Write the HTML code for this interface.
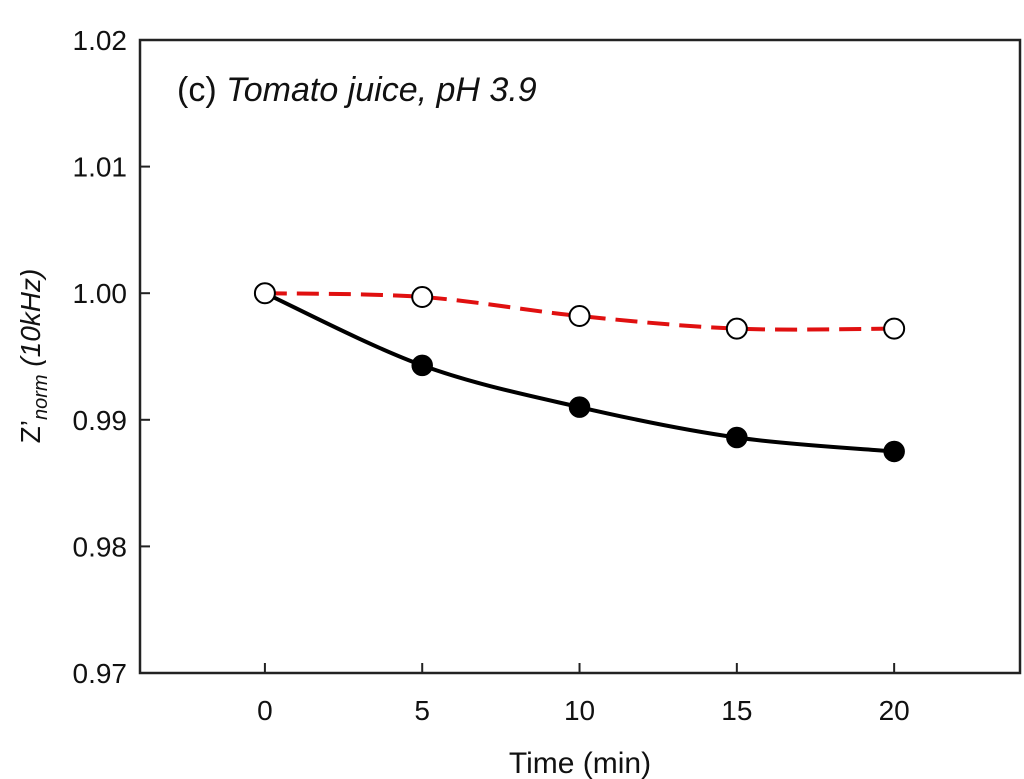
<!DOCTYPE html>
<html><head><meta charset="utf-8"><style>
body{margin:0;background:#fff}
svg{display:block;font-family:"Liberation Sans",sans-serif}
</style></head><body>
<svg id="chart" width="1024" height="779">
<rect x="140" y="40" width="880" height="633" fill="none" stroke="#222" stroke-width="2.5"/>
<g id="axes"></g>
<g id="series"></g>
<text x="177" y="101" font-size="34" fill="#111">(c) <tspan font-style="italic">Tomato juice, pH 3.9</tspan></text>
<text x="580" y="773" font-size="30" text-anchor="middle" fill="#111">Time (min)</text>
<text transform="translate(40,356) rotate(-90)" font-size="28" text-anchor="middle" fill="#111">Z’<tspan font-size="20" font-style="italic" dy="7">norm</tspan><tspan dy="-7" font-style="italic"> (10kHz)</tspan></text>
</svg>
<script>
const xTicks=[0,5,10,15,20];
const yTicks=[0.97,0.98,0.99,1.00,1.01,1.02];
const yTickLabels=["0.97","0.98","0.99","1.00","1.01","1.02"];
const times=[0,5,10,15,20];
const filledSeries=[1.000,0.9943,0.9910,0.9886,0.9875];
const openSeries=[1.000,0.9997,0.9982,0.9972,0.9972];
const NS="http://www.w3.org/2000/svg";
const X=v=>140+(v+3.97)*(880/27.97);
const Y=v=>673-(v-0.97)*(633/0.05);
function mk(t,a,p){const e=document.createElementNS(NS,t);for(const k in a)e.setAttribute(k,a[k]);p.appendChild(e);return e;}
const ax=document.getElementById('axes'),se=document.getElementById('series');
xTicks.forEach(t=>{
 const l=mk('line',{x1:X(t),x2:X(t),y1:673,y2:663,stroke:'#222','stroke-width':2},ax);
 
 
 const tx=mk('text',{x:X(t),y:720,'font-size':28,'text-anchor':'middle',fill:'#111'},ax);tx.textContent=t;
 
 
});
yTicks.forEach((t,i)=>{
 const l=mk('line',{x1:140,x2:150,y1:Y(t),y2:Y(t),stroke:'#222','stroke-width':2},ax);
 
 
 const tx=mk('text',{x:127,y:Y(t)+10,'font-size':28,'text-anchor':'end',fill:'#111'},ax);tx.textContent=yTickLabels[i];
 
 
});
function curve(vals){
 const p=times.map((t,i)=>[X(t),Y(vals[i])]);
 let d='M'+p[0][0]+','+p[0][1];
 for(let i=0;i<p.length-1;i++){
  const p0=p[Math.max(i-1,0)],p1=p[i],p2=p[i+1],p3=p[Math.min(i+2,p.length-1)];
  d+=' C'+(p1[0]+(p2[0]-p0[0])/6)+','+(p1[1]+(p2[1]-p0[1])/6)+' '+(p2[0]-(p3[0]-p1[0])/6)+','+(p2[1]-(p3[1]-p1[1])/6)+' '+p2[0]+','+p2[1];
 }
 return d;
}
const lb=mk('path',{d:curve(filledSeries),fill:'none',stroke:'#000','stroke-width':4},se);


const lr=mk('path',{d:curve(openSeries),fill:'none',stroke:'#e01010','stroke-width':4,'stroke-dasharray':'22 10'},se);


times.forEach((t,i)=>{
 const c=mk('circle',{cx:X(t),cy:Y(filledSeries[i]),r:10,fill:'#000',stroke:'#000','stroke-width':1.5},se);
 
 
});
times.forEach((t,i)=>{
 const c=mk('circle',{cx:X(t),cy:Y(openSeries[i]),r:10,fill:'#fff',stroke:'#000','stroke-width':2},se);
 
 
});
</script>
</body></html>
